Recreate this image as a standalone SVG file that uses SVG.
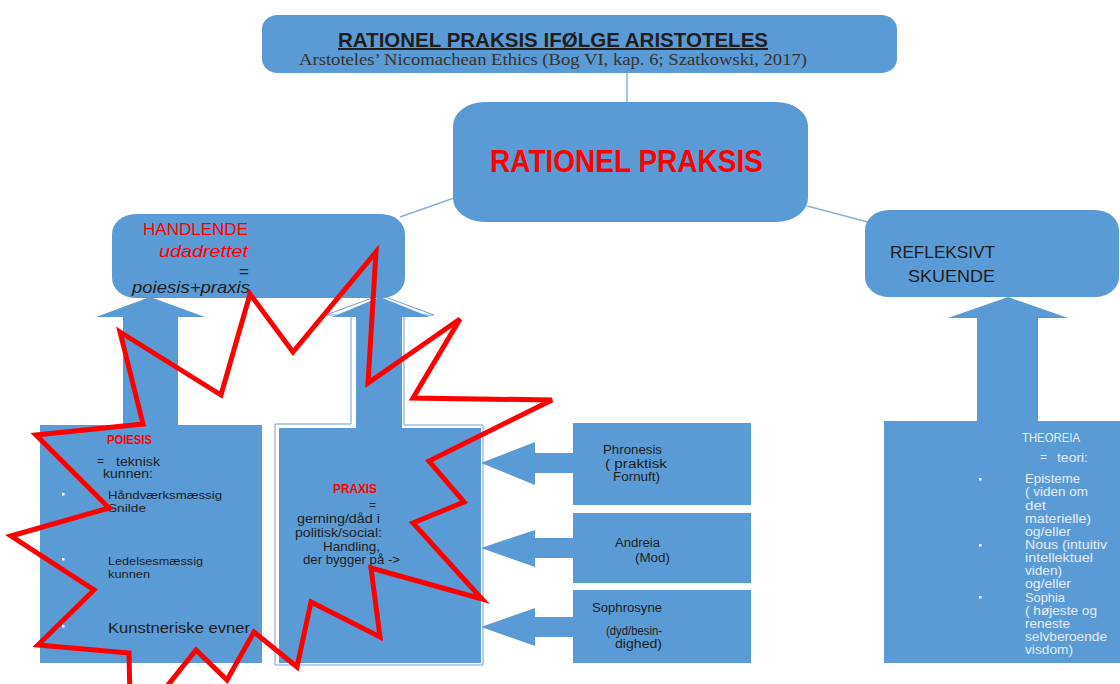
<svg xmlns="http://www.w3.org/2000/svg" width="1120" height="684" viewBox="0 0 1120 684">
  <style>
    .box { fill: #5b9bd5; }
    .t { font-family: "Liberation Sans", Arial, sans-serif; fill: #1e1e1e; }
    .red { fill: #ff0000; }
    .light { fill: #e4ecf6; }
    .s { font-size: 12px; }
    .xs { font-size: 11px; }
    .line { stroke: #8fb0d3; stroke-width: 1.5; fill: none; }
    .star { fill: none; stroke: #ff0000; stroke-width: 5; stroke-linejoin: miter; }
    .dot { fill: #ffffff; }
  </style>

  <rect width="1120" height="684" fill="#ffffff"/>

  <!-- praxis: white frame behind box and its up-arrow -->
  <g id="praxis">
    <polygon points="380,295 434,315 404,315 404,425 483,425 483,665 275,665 275,424 351,424 351,315 326,315" fill="#ffffff" stroke="#6f9fd2" stroke-width="1"/>
    <rect class="box" x="279" y="428" width="202" height="235"/>
    <text class="t red s" x="333" y="493" font-weight="bold" textLength="44" lengthAdjust="spacingAndGlyphs">PRAXIS</text>
    <text class="t s" x="369" y="509">=</text>
    <text class="t s" x="297" y="523" textLength="83" lengthAdjust="spacingAndGlyphs">gerning/dåd i</text>
    <text class="t s" x="295" y="537" textLength="87" lengthAdjust="spacingAndGlyphs">politisk/social:</text>
    <text class="t s" x="323" y="551" textLength="57" lengthAdjust="spacingAndGlyphs">Handling,</text>
    <text class="t s" x="303" y="564" textLength="97" lengthAdjust="spacingAndGlyphs">der bygger på -&gt;</text>
  </g>

  <!-- connectors: thin links and block arrows -->
  <g id="connectors">
    <line class="line" x1="627" y1="73" x2="627" y2="102"/>
    <line class="line" x1="454" y1="198" x2="400" y2="217"/>
    <line class="line" x1="807" y1="206" x2="868" y2="222"/>
    <!-- up arrows -->
    <polygon class="box" points="150,297 205,317 178,317 178,426 123,426 123,317 96,317"/>
    <polygon class="box" points="380,297 430,317 402,317 402,429 356,429 356,317 332,317"/>
    <polygon class="box" points="1008,297 1068,318 1038,318 1038,422 977,422 977,318 948,318"/>
    <!-- left arrows into praxis -->
    <polygon class="box" points="481,463 535,442 535,453 574,453 574,473 535,473 535,485"/>
    <polygon class="box" points="481,548 535,530 535,538 574,538 574,558 535,558 535,567"/>
    <polygon class="box" points="481,627 535,608 535,617 574,617 574,637 535,637 535,646"/>
  </g>

  <g id="title">
    <rect class="box" x="262" y="15" width="635" height="58" rx="16" ry="14"/>
    <text class="t" x="338" y="47" font-size="19.5" font-weight="bold" text-decoration="underline" textLength="430" lengthAdjust="spacingAndGlyphs">RATIONEL PRAKSIS IFØLGE  ARISTOTELES</text>
    <text x="299" y="65" font-family="'Liberation Serif', 'Times New Roman', serif" font-size="16.5" fill="#333333" textLength="508" lengthAdjust="spacingAndGlyphs">Arstoteles’ Nicomachean Ethics (Bog VI, kap. 6; Szatkowski, 2017)</text>
  </g>

  <g id="rationel">
    <rect class="box" x="453" y="102" width="355" height="120" rx="32" ry="24"/>
    <text class="t red" x="490" y="172" font-size="30.5" font-weight="bold" textLength="273" lengthAdjust="spacingAndGlyphs">RATIONEL PRAKSIS</text>
  </g>

  <g id="handlende">
    <rect class="box" x="112" y="214" width="293" height="84" rx="24" ry="20"/>
    <text class="t red" x="143" y="235" font-size="17" textLength="105" lengthAdjust="spacingAndGlyphs">HANDLENDE</text>
    <text class="t red" x="159" y="257" font-size="17" font-style="italic" textLength="89" lengthAdjust="spacingAndGlyphs">udadrettet</text>
    <text class="t" x="239" y="277" font-size="17">=</text>
    <text class="t" x="132" y="293" font-size="17" font-style="italic" textLength="118" lengthAdjust="spacingAndGlyphs">poiesis+praxis</text>
  </g>

  <g id="refleksivt">
    <rect class="box" x="865" y="210" width="254" height="87" rx="24" ry="20"/>
    <text class="t" x="890" y="258" font-size="17" textLength="105" lengthAdjust="spacingAndGlyphs">REFLEKSIVT</text>
    <text class="t" x="908" y="282" font-size="17" textLength="87" lengthAdjust="spacingAndGlyphs">SKUENDE</text>
  </g>

  <g id="poiesis">
    <rect class="box" x="40" y="425" width="222" height="238"/>
    <text class="t red s" x="107" y="444" font-weight="bold" textLength="45" lengthAdjust="spacingAndGlyphs">POIESIS</text>
    <text class="t s" x="97" y="465">=</text>
    <text class="t s" x="116" y="466" textLength="44" lengthAdjust="spacingAndGlyphs">teknisk</text>
    <text class="t s" x="103" y="478" textLength="50" lengthAdjust="spacingAndGlyphs">kunnen:</text>
    <rect class="dot" x="62" y="493" width="2.5" height="2.5"/>
    <text class="t xs" x="108" y="499" textLength="114" lengthAdjust="spacingAndGlyphs">Håndværksmæssig</text>
    <text class="t xs" x="108" y="512" textLength="38" lengthAdjust="spacingAndGlyphs">Snilde</text>
    <rect class="dot" x="62" y="558" width="2.5" height="2.5"/>
    <text class="t xs" x="108" y="565" textLength="95" lengthAdjust="spacingAndGlyphs">Ledelsesmæssig</text>
    <text class="t xs" x="108" y="578" textLength="42" lengthAdjust="spacingAndGlyphs">kunnen</text>
    <rect class="dot" x="62" y="625" width="2.5" height="2.5"/>
    <text class="t" x="108" y="633" font-size="15.5" textLength="142" lengthAdjust="spacingAndGlyphs">Kunstneriske evner</text>
  </g>

  <g id="phronesis">
    <rect class="box" x="573" y="423" width="178" height="82"/>
    <text class="t s" x="603" y="454" textLength="59" lengthAdjust="spacingAndGlyphs">Phronesis</text>
    <text class="t s" x="605" y="468" textLength="62" lengthAdjust="spacingAndGlyphs">( praktisk</text>
    <text class="t s" x="613" y="481" textLength="47" lengthAdjust="spacingAndGlyphs">Fornuft)</text>
  </g>

  <g id="andreia">
    <rect class="box" x="573" y="513" width="178" height="70"/>
    <text class="t s" x="615" y="547" textLength="45" lengthAdjust="spacingAndGlyphs">Andreia</text>
    <text class="t s" x="635" y="562" textLength="35" lengthAdjust="spacingAndGlyphs">(Mod)</text>
  </g>

  <g id="sophrosyne">
    <rect class="box" x="573" y="590" width="178" height="73"/>
    <text class="t s" x="592" y="612" textLength="70" lengthAdjust="spacingAndGlyphs">Sophrosyne</text>
    <text class="t s" x="606" y="635" textLength="56" lengthAdjust="spacingAndGlyphs">(dyd/besin-</text>
    <text class="t s" x="615" y="648" textLength="47" lengthAdjust="spacingAndGlyphs">dighed)</text>
  </g>

  <g id="theoreia">
    <rect class="box" x="884" y="421" width="236" height="242"/>
    <g class="s" font-family="'Liberation Sans', Arial, sans-serif">
      <text class="light" x="1022" y="442" textLength="58" lengthAdjust="spacingAndGlyphs">THEOREIA</text>
      <text class="light" x="1040" y="461">=</text>
      <text class="light" x="1057" y="462" textLength="31" lengthAdjust="spacingAndGlyphs">teori:</text>
      <rect class="dot" x="979" y="478" width="2.5" height="2.5"/>
      <rect class="dot" x="979" y="544" width="2.5" height="2.5"/>
      <rect class="dot" x="979" y="596" width="2.5" height="2.5"/>
      <text class="light" x="1025" y="483" textLength="55" lengthAdjust="spacingAndGlyphs">Episteme</text>
      <text class="light" x="1025" y="496" textLength="63" lengthAdjust="spacingAndGlyphs">( viden om</text>
      <text class="light" x="1025" y="510" textLength="21" lengthAdjust="spacingAndGlyphs">det</text>
      <text class="light" x="1025" y="523" textLength="66" lengthAdjust="spacingAndGlyphs">materielle)</text>
      <text class="light" x="1025" y="536" textLength="46" lengthAdjust="spacingAndGlyphs">og/eller</text>
      <text class="light" x="1025" y="549" textLength="82" lengthAdjust="spacingAndGlyphs">Nous (intuitiv</text>
      <text class="light" x="1025" y="562" textLength="68" lengthAdjust="spacingAndGlyphs">intellektuel</text>
      <text class="light" x="1025" y="575" textLength="37" lengthAdjust="spacingAndGlyphs">viden)</text>
      <text class="light" x="1025" y="588" textLength="46" lengthAdjust="spacingAndGlyphs">og/eller</text>
      <text class="light" x="1025" y="602" textLength="40" lengthAdjust="spacingAndGlyphs">Sophia</text>
      <text class="light" x="1025" y="615" textLength="72" lengthAdjust="spacingAndGlyphs">( højeste og</text>
      <text class="light" x="1025" y="628" textLength="45" lengthAdjust="spacingAndGlyphs">reneste</text>
      <text class="light" x="1025" y="641" textLength="82" lengthAdjust="spacingAndGlyphs">selvberoende</text>
      <text class="light" x="1025" y="654" textLength="48" lengthAdjust="spacingAndGlyphs">visdom)</text>
    </g>
  </g>

  <!-- red explosion outline over the action side -->
  <polygon class="star" points="120,332 221,395 250,294 293,352 376,252 368,383 460,319 413,398 552,400 429,461 464,502 413,523 482,599 371,568 380,637 311,602 297,667 254,632 227,680 196,650 156,700 130,700 129,653 38,645 94,590 11,536 109,508 36,435 143,424"/>
</svg>
